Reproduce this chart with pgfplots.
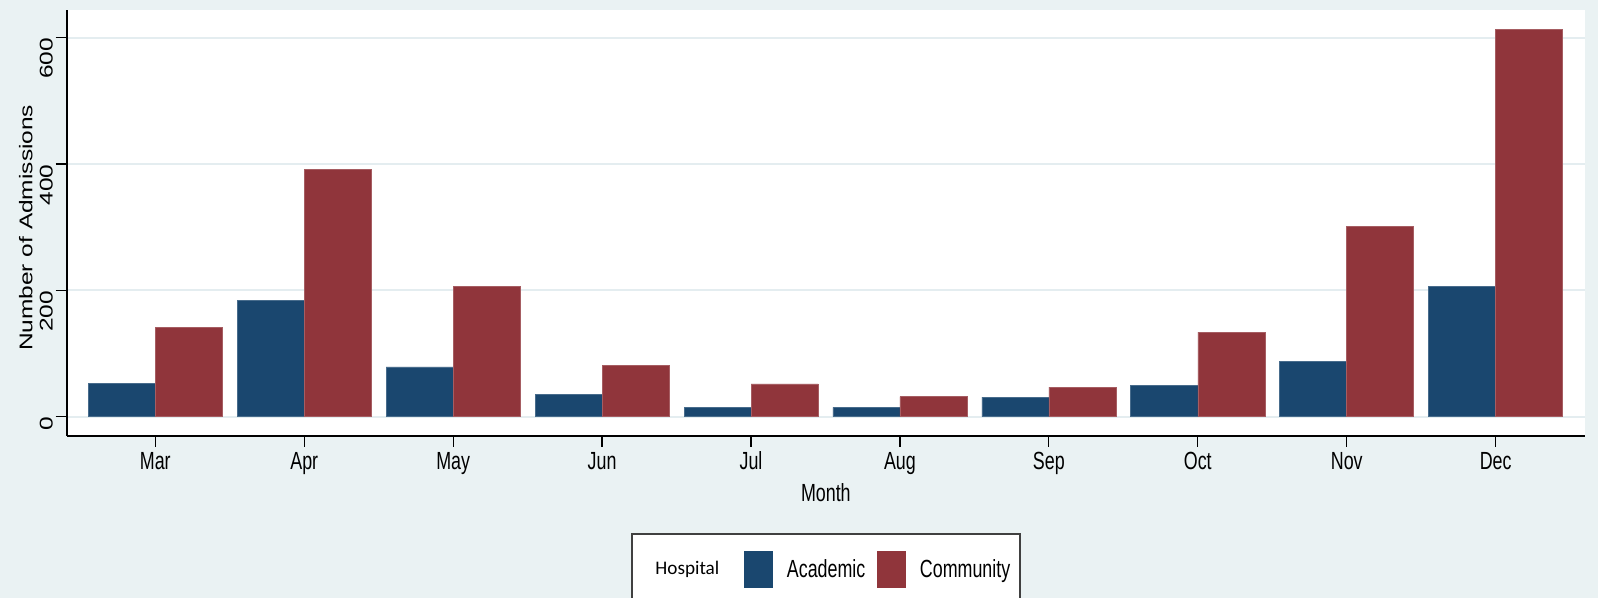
\documentclass[border=0pt]{standalone}
\usepackage{pgfplots}
\pgfplotsset{compat=1.18}
\usepackage{fontspec}
\setmainfont{Liberation Sans}
\newfontfamily\nfont[FakeStretch=0.72]{Liberation Sans}
\newfontfamily\wfont[FakeStretch=1.33]{Liberation Sans}
\newfontfamily\cfont{Carlito}
\definecolor{bg}{HTML}{EAF2F3}
\definecolor{cblue}{HTML}{1A476F}
\definecolor{cred}{HTML}{90353B}
\definecolor{gridc}{HTML}{E4EDF0}
\begin{document}
\begin{tikzpicture}
\useasboundingbox (-33.35pt,-81.15pt) rectangle (765.65pt,217.85pt);
\fill[bg] (-33.35pt,-81.15pt) rectangle (765.65pt,217.85pt);
\begin{scope}
\clip (-33.35pt,-81.15pt) rectangle (765.65pt,217.85pt);
\begin{axis}[
  at={(0pt,0pt)}, anchor=south west,
  scale only axis, width=759.15pt, height=212.7pt,
  xmin=-0.595, xmax=9.6, ymin=-30, ymax=643.5,
  axis lines*=left,
  axis line style={line width=1.1pt, black},
  axis background/.style={fill=white},
  xtick={0,...,9},
  xticklabels={Mar,Apr,May,Jun,Jul,Aug,Sep,Oct,Nov,Dec},
  ytick={0,200,400,600},
  /pgf/number format/assume math mode=true,
  ymajorgrids, grid style={gridc, line width=1pt},
  tick align=outside, major tick length=5.5pt,
  tick style={black, line width=0.6pt},
  xticklabel style={font=\nfont\fontsize{12.4}{14}\selectfont, anchor=base, inner sep=0pt},
  xticklabel shift=11.5pt,
  yticklabel style={font=\wfont\fontsize{9.2}{11}\selectfont, rotate=90, anchor=south east, inner sep=0pt},
  yticklabel shift=1.2pt,
  xlabel={Month},
  xlabel style={font=\nfont\fontsize{12.4}{14}\selectfont, at={(axis description cs:0.5,0)}, anchor=base, yshift=-33pt, inner sep=0pt},
  ylabel={Number of Admissions},
  ylabel style={font=\wfont\fontsize{9.2}{11}\selectfont, at={([xshift=-16.85pt]axis description cs:0,0.4885)}, anchor=south, inner sep=0pt},
  ybar, bar width=0.45,
  legend columns=3,
  legend style={at={(axis description cs:0.5,0)}, anchor=north, yshift=-48.8pt,
    draw=black!75, line width=0.75pt, fill=white,
    inner xsep=4.85pt, inner ysep=8.35pt,
    font=\nfont\fontsize{12.4}{14}\selectfont,
    nodes={inner sep=0pt},
    column sep=0pt,
    /tikz/column 1/.style={column sep=7pt},
    /tikz/column 2/.style={column sep=12.3pt},
    /tikz/column 3/.style={column sep=7.2pt},
    /tikz/column 4/.style={column sep=6pt},
    /tikz/column 5/.style={column sep=7pt}},
]
\addlegendimage{legend image code/.code={}}
\addlegendentry{\cfont\fontsize{9.6}{11}\selectfont Hospital}
\addplot[fill=cblue, draw=cblue!80!white, line width=0.3pt, bar shift=-0.225,
  legend image code/.code={\fill[cblue] (0pt,-9pt) rectangle (14pt,9.35pt);}]
  coordinates {(0,53) (1,184) (2,79) (3,36) (4,15) (5,15) (6,31) (7,50) (8,88) (9,207)};
\addlegendentry{Academic}
\addplot[fill=cred, draw=cred!80!white, line width=0.3pt, bar shift=0.225,
  legend image code/.code={\fill[cred] (0pt,-9pt) rectangle (14pt,9.35pt);}]
  coordinates {(0,141) (1,392) (2,207) (3,81) (4,52) (5,32) (6,47) (7,134) (8,301) (9,613)};
\addlegendentry{Community}
\end{axis}
\end{scope}
\end{tikzpicture}
\end{document}
